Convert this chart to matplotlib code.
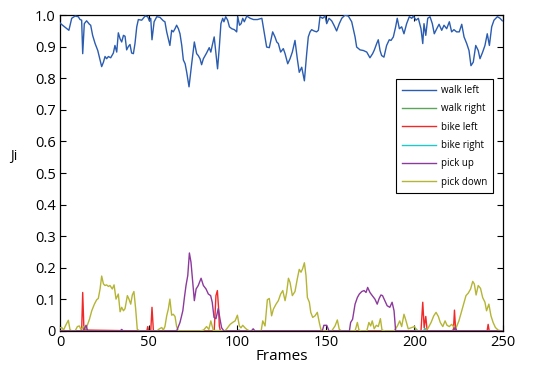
import numpy as np
import matplotlib
matplotlib.use('Agg')
import matplotlib.pyplot as plt
from matplotlib.ticker import FuncFormatter

# walk left (blue)
walk_left_x = [0, 1, 5, 6.6, 8.5, 10.3, 11.3, 12.2, 12.8, 13.7, 15, 16.6, 17.3, 18.4, 19.8, 21.3, 22.6, 23.5,
               24.5, 25.4, 26.3, 27.3, 28.6, 30.1, 31, 32, 32.9, 33.9, 34.8, 35.8, 36.7, 37.6, 38.6, 39.5,
               40.4, 41.4, 42.3, 43.3, 44.2, 46.1, 47, 48, 49.5, 50.4, 51.2, 51.9, 53.1, 54.6, 56.4, 58.3,
               59.2, 60.2, 62, 63, 63.9, 64.9, 65.8, 66.8, 67.7, 68.7, 69.6, 70.6, 71.5, 72.8, 74.3, 75.8,
               77.1, 78, 79, 79.9, 80.9, 82.7, 84.2, 85.1, 85.9, 87, 87.8, 88.9, 89.9, 90.8, 91.8, 92.5,
               93.5, 94.6, 95.6, 96.9, 98.4, 99.7, 100.3, 101.3, 102.2, 103.1, 104, 105.4, 107.3, 109.2,
               111.4, 113.9, 114.7, 115.7, 116.6, 118.1, 120, 121.3, 122.3, 123.2, 124.5, 126, 127, 128.5,
               129.8, 131.1, 132.6, 133.9, 135, 136.4, 137.9, 139.2, 140.1, 141.1, 142, 143.3, 144.8, 145.8,
               146.7, 148.2, 149.6, 150.5, 151.8, 153.3, 154.6, 156.1, 157.6, 159, 160.8, 162.7, 164.6,
               166.5, 167.4, 169.3, 171.2, 173.1, 174.9, 176.4, 177.4, 178.7, 179.6, 180.6, 181.5, 182.8,
               184.3, 185.8, 186.8, 188.1, 189.4, 190.3, 191.5, 192.8, 194.1, 195.6, 197.1, 198.5, 199.4,
               200.9, 202.2, 203.7, 204.7, 205.4, 206.4, 207.5, 208.8, 210.1, 211.2, 212.6, 213.9, 215.4,
               216.7, 218.2, 219.7, 221, 222.3, 223.8, 225.3, 226.7, 228, 229.5, 230.8, 231.9, 233.2, 234.6,
               236, 237, 238.5, 239.8, 241.1, 242.3, 243.6, 244.9, 246.8, 248.3, 249.6]
walk_left_y = [0.975, 0.97, 0.952, 0.99, 0.997, 0.995, 0.986, 0.984, 0.878, 0.973, 0.982, 0.971, 0.968, 0.936,
               0.91, 0.888, 0.858, 0.837, 0.851, 0.869, 0.862, 0.869, 0.865, 0.88, 0.904, 0.883, 0.944, 0.925,
               0.915, 0.936, 0.933, 0.89, 0.901, 0.907, 0.88, 0.878, 0.91, 0.963, 0.986, 0.984, 0.99, 0.997,
               0.995, 0.982, 0.99, 0.922, 0.979, 0.995, 0.993, 0.982, 0.979, 0.947, 0.904, 0.952, 0.947, 0.957,
               0.968, 0.957, 0.941, 0.904, 0.858, 0.846, 0.819, 0.773, 0.846, 0.915, 0.878, 0.872, 0.862, 0.843,
               0.862, 0.88, 0.897, 0.883, 0.904, 0.931, 0.888, 0.83, 0.899, 0.973, 0.99, 0.979, 0.995, 0.984,
               0.963, 0.957, 0.954, 0.947, 0.995, 0.968, 0.973, 0.99, 0.979, 0.997, 0.99, 0.986, 0.986, 0.99,
               0.963, 0.931, 0.899, 0.897, 0.947, 0.931, 0.915, 0.91, 0.883, 0.894, 0.878, 0.846, 0.862, 0.883,
               0.92, 0.862, 0.819, 0.835, 0.792, 0.878, 0.931, 0.947, 0.954, 0.95, 0.947, 0.952, 0.995, 0.99,
               0.997, 0.973, 0.99, 0.982, 0.968, 0.95, 0.973, 0.99, 1.0, 0.997, 0.979, 0.931, 0.899, 0.89,
               0.888, 0.883, 0.865, 0.878, 0.89, 0.91, 0.922, 0.888, 0.872, 0.867, 0.904, 0.922, 0.92, 0.931,
               0.963, 0.99, 0.957, 0.963, 0.941, 0.973, 0.995, 0.99, 0.997, 0.984, 0.99, 0.957, 0.91, 0.973,
               0.936, 0.99, 0.995, 0.973, 0.941, 0.957, 0.971, 0.952, 0.968, 0.957, 0.979, 0.947, 0.954, 0.947,
               0.947, 0.971, 0.931, 0.91, 0.888, 0.84, 0.851, 0.904, 0.888, 0.862, 0.883, 0.904, 0.941, 0.904,
               0.963, 0.984, 0.995, 0.99, 0.982]

# walk right (green) - stays at zero apart from tiny bumps
walk_right_x = [0, 13, 14, 15, 100, 101, 102, 250]
walk_right_y = [0, 0, 0.004, 0, 0, 0.003, 0, 0]

# bike left (red)
bike_left_x = [0, 12.2, 12.8, 13.5, 49, 49.5, 50, 51.2, 51.9, 52.7, 87, 88, 88.8, 89.5, 89.9, 90.5,
               203.7, 204.7, 205.5, 206.4, 207.2, 222, 222.6, 223.3, 241, 241.6, 242.2, 250]
bike_left_y = [0, 0, 0.122, 0.003, 0, 0.014, 0, 0, 0.075, 0, 0, 0.112, 0.128, 0.07, 0.016, 0,
               0, 0.091, 0.01, 0.046, 0, 0, 0.066, 0, 0, 0.021, 0, 0]

# bike right (cyan)
bike_right_x = [0, 14, 15, 16, 200, 201, 202, 205, 206, 207, 221, 222, 223, 250]
bike_right_y = [0, 0, 0.005, 0, 0, 0.006, 0, 0, 0.008, 0, 0, 0.005, 0, 0]

# pick up (purple)
pick_up_x = [0, 13, 13.7, 14.7, 15.6, 34, 34.8, 35.6, 65.8, 67.7, 69.3, 70.2, 71.1, 72.1, 73, 73.9, 74.9,
             75.8, 76.8, 78, 79.6, 80.9, 82.4, 83.7, 85, 85.9, 86.9, 88, 89.3, 90.3, 91.2, 92.5, 108, 109,
             110, 148, 148.9, 150.5, 151.8, 163.3, 164, 165.1, 166.5, 167.8, 168.9, 170.3, 171.6, 172.7,
             173.6, 174.9, 176.2, 177.7, 179, 180.1, 181.1, 182, 183.3, 184.6, 186.1, 187.4, 188.5, 189.4,
             222, 223, 224, 250]
pick_up_y = [0, 0, 0.007, 0.018, 0, 0, 0.005, 0, 0, 0.027, 0.064, 0.106, 0.144, 0.176, 0.247, 0.218, 0.154,
             0.096, 0.133, 0.144, 0.167, 0.144, 0.133, 0.117, 0.112, 0.091, 0.043, 0.039, 0.071, 0.037, 0.01,
             0, 0, 0.007, 0, 0, 0.018, 0.018, 0, 0, 0.027, 0.037, 0.085, 0.106, 0.117, 0.125, 0.128, 0.122,
             0.138, 0.122, 0.112, 0.101, 0.085, 0.103, 0.114, 0.112, 0.096, 0.08, 0.075, 0.091, 0.064, 0,
             0, 0.011, 0, 0]

# pick down (olive)
pick_down_x = [0, 1, 2, 3.2, 4.7, 5.6, 6.6, 8.5, 9.8, 10.9, 11.8, 13.2, 14.7, 15.4, 16.6, 17.9, 19.4, 20.7,
               21.6, 22.6, 23.5, 24.5, 25.4, 26.3, 27.3, 28.2, 29.5, 30.5, 31.6, 32.9, 33.9, 34.8, 35.8,
               36.7, 38, 38.9, 39.9, 40.8, 41.7, 42.7, 43.6, 45.1, 54.6, 56.1, 57.4, 58.3, 59.2, 60.2, 61.1,
               62, 63, 63.9, 64.9, 65.8, 66.8, 79, 81, 82.7, 84, 85.1, 86.5, 93, 94.1, 96, 97.4, 98.8,
               100.1, 101.2, 102.1, 103.1, 104.4, 105.4, 107, 113.5, 114.4, 115.7, 117, 118.1, 119.4, 120.4,
               121.9, 123.2, 124.5, 125.7, 127, 127.9, 128.9, 129.8, 131.1, 132.6, 133.9, 135, 136, 136.9,
               137.9, 138.8, 139.6, 140.7, 141.5, 142.6, 143.9, 145.2, 146.3, 147.3, 148.6, 153.3, 155.2,
               156.5, 157.6, 159, 166.5, 167.8, 168.7, 170, 173.1, 174.3, 175.3, 176.2, 177.3, 178.5, 179.6,
               180.8, 181.7, 183.5, 188.5, 190.4, 191.7, 192.8, 194.1, 195, 196.5, 198.5, 200, 201.6, 205.3,
               207.5, 209.4, 210.9, 212.2, 213.5, 214.6, 216, 217.3, 218.4, 219.7, 221, 222.1, 223.3, 223.8,
               225.1, 226.7, 228, 229.1, 230.4, 231.7, 232.9, 233.8, 234.8, 236, 237.3, 238.5, 239.8, 240.7,
               242, 243.2, 244.4, 245.7, 247.2, 249.1, 250]
pick_down_y = [0.01, 0.011, 0.003, 0.018, 0.034, 0.005, 0, 0, 0.014, 0.016, 0.005, 0.014, 0.007, 0.018,
               0.037, 0.064, 0.085, 0.099, 0.103, 0.133, 0.174, 0.149, 0.144, 0.146, 0.141, 0.144, 0.133,
               0.146, 0.101, 0.117, 0.061, 0.075, 0.064, 0.071, 0.112, 0.101, 0.085, 0.114, 0.125, 0.069,
               0.005, 0, 0, 0.007, 0.011, 0.003, 0.014, 0.048, 0.069, 0.101, 0.05, 0.053, 0.046, 0.014, 0,
               0, 0.003, 0.014, 0.005, 0.032, 0.002, 0, 0.007, 0.021, 0.027, 0.032, 0.05, 0.016, 0.01, 0.018,
               0.01, 0.005, 0, 0, 0.032, 0.016, 0.099, 0.103, 0.048, 0.069, 0.085, 0.096, 0.117, 0.128,
               0.096, 0.122, 0.167, 0.154, 0.112, 0.125, 0.165, 0.195, 0.186, 0.197, 0.216, 0.176, 0.106,
               0.091, 0.059, 0.043, 0.048, 0.059, 0.027, 0.003, 0, 0, 0.016, 0.035, 0.005, 0, 0, 0.027,
               0.003, 0, 0, 0.027, 0.016, 0.032, 0.007, 0.018, 0.014, 0.039, 0.003, 0, 0, 0.016, 0.032,
               0.014, 0.053, 0.037, 0.007, 0.011, 0.014, 0, 0, 0.007, 0.027, 0.048, 0.059, 0.046, 0.027,
               0.014, 0.032, 0.018, 0.014, 0.021, 0.014, 0.007, 0.014, 0.032, 0.064, 0.091, 0.112, 0.12,
               0.133, 0.157, 0.149, 0.114, 0.144, 0.135, 0.106, 0.091, 0.064, 0.085, 0.048, 0.027, 0.011,
               0.003, 0, 0]

labels = ['walk left', 'walk right', 'bike left', 'bike right', 'pick up', 'pick down']
colors = ['#2a5cb0', '#5aa55a', '#f02828', '#20c8c8', '#8c3a9c', '#b5b535']

plt.rcParams['font.family'] = ['Open Sans', 'DejaVu Sans']

fig = plt.figure(figsize=(5.34, 3.69), dpi=100)
ax = fig.add_axes([0.1124, 0.103, 0.8296, 0.856])

series = [(walk_left_x, walk_left_y), (walk_right_x, walk_right_y), (bike_left_x, bike_left_y),
          (bike_right_x, bike_right_y), (pick_up_x, pick_up_y), (pick_down_x, pick_down_y)]
zorders = [3, 2, 3, 2, 4, 3]
for (x, y), lab, c, z in zip(series, labels, colors, zorders):
    ax.plot(x, y, color=c, lw=1.0, label=lab, zorder=z)

ax.set_xlim(0, 250)
ax.set_ylim(0, 1)
ax.set_xticks(np.arange(0, 251, 50))
ax.set_yticks(np.arange(0, 1.01, 0.1))
ax.yaxis.set_major_formatter(FuncFormatter(lambda v, p: '0' if abs(v) < 1e-9 else '%.1f' % v))
ax.tick_params(direction='in', top=True, right=True, length=4, width=0.8, labelsize=10.5, pad=3)
for s in ax.spines.values():
    s.set_linewidth(0.9)

ax.set_xlabel('Frames', fontsize=11, labelpad=-1)
ax.set_ylabel('Ji', fontsize=10, rotation=0, va='center', ha='center')
ax.yaxis.set_label_coords(-0.104, 0.554)

leg = ax.legend(loc='upper left', bbox_to_anchor=(0.758, 0.797), fontsize=7, frameon=True,
                fancybox=False, handlelength=3.5, borderpad=0.6, labelspacing=0.75, handletextpad=0.5,
                borderaxespad=0)
leg.get_frame().set_edgecolor('black')
leg.get_frame().set_linewidth(0.8)
leg.get_frame().set_alpha(1)

fig.savefig('out.png', dpi=100)
